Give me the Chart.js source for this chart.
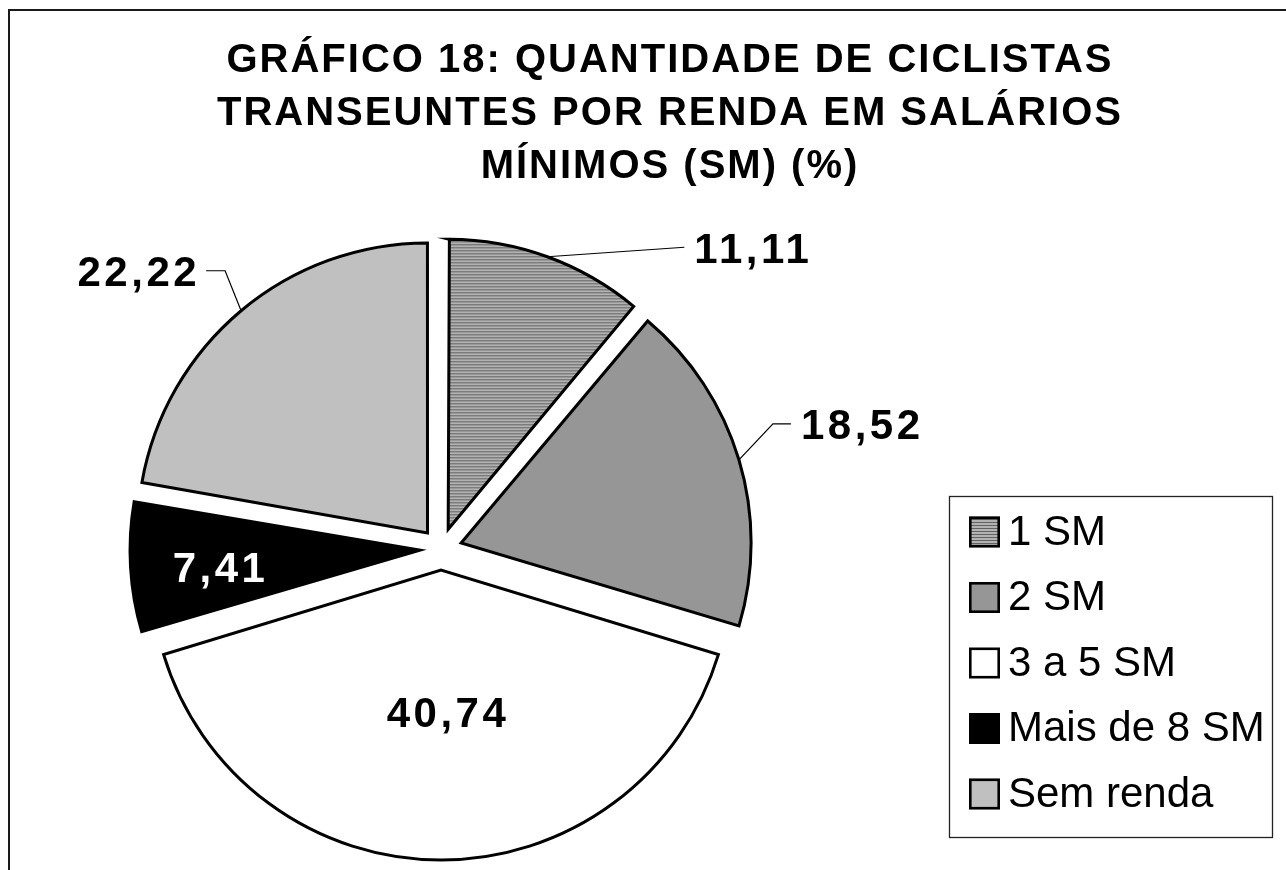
<!DOCTYPE html>
<html><head><meta charset="utf-8">
<script src="https://cdn.jsdelivr.net/npm/chart.js@4/dist/chart.umd.min.js"></script>
<style>html,body{margin:0;padding:0;background:#fff;overflow:hidden}canvas{display:block}</style>
</head><body>
<canvas id="c" width="1286" height="870"></canvas>
<script>
// ---- data ----
const titleLines = ['GRÁFICO 18: QUANTIDADE DE CICLISTAS', 'TRANSEUNTES POR RENDA EM SALÁRIOS', 'MÍNIMOS (SM) (%)'];
const categories = ['1 SM', '2 SM', '3 a 5 SM', 'Mais de 8 SM', 'Sem renda'];
const percentages = [11.11, 18.52, 40.74, 7.41, 22.22];

// ---- styling helpers ----
const PIE_RADIUS = 290;
function stripePattern() {
  const c = document.createElement('canvas');
  c.width = 4; c.height = 3;
  const x = c.getContext('2d');
  x.fillStyle = '#b2b2b2'; x.fillRect(0, 0, 4, 3);
  x.fillStyle = '#626262'; x.fillRect(0, 0, 4, 1);
  return x.createPattern(c, 'repeat');
}
const sliceColors = [stripePattern(), '#969696', '#ffffff', '#000000', '#c0c0c0'];
const fmt = v => v.toFixed(2).replace('.', ',');

const framePlugin = {
  id: 'frame',
  beforeDraw(chart) {
    const ctx = chart.ctx;
    ctx.save();
    ctx.strokeStyle = '#1a1a1a'; ctx.lineWidth = 2;
    ctx.strokeRect(9, 10, 1400, 1000);
    ctx.restore();
    ctx.letterSpacing = '2px';
  },
  beforeDatasetsDraw(chart) { chart.ctx.letterSpacing = '0px'; },
  afterLayout(chart) {
    if (chart.titleBlock) { chart.titleBlock.left = 54; chart.titleBlock.right = 1286; }
  },
  // keep every exploded slice at the same radius (Chart.js inflates narrow exploded slices)
  afterDatasetsUpdate(chart) {
    chart.getDatasetMeta(0).data.forEach(arc => {
      const off = (arc.options.offset || 0) / 4;
      const fix = 1 - Math.sin(Math.min(Math.PI, arc.circumference));
      arc.outerRadius = PIE_RADIUS - off * fix;
    });
  }
};

const labelPlugin = {
  id: 'sliceLabels',
  afterDatasetsDraw(chart, args, opts) {
    const ctx = chart.ctx;
    const meta = chart.getDatasetMeta(0);
    ctx.save();
    ctx.font = 'bold 42px "Liberation Sans", Arial, sans-serif';
    ctx.letterSpacing = '3.5px';
    ctx.textBaseline = 'middle';
    meta.data.forEach((arc, i) => {
      const p = arc.getProps(['x', 'y', 'startAngle', 'endAngle', 'outerRadius', 'circumference']);
      const mid = (p.startAngle + p.endAngle) / 2;
      const off = (arc.options.offset || 0) / 4;
      const fix = 1 - Math.sin(Math.min(Math.PI, p.circumference));
      const R = p.outerRadius + off * fix;
      const cx = p.x + Math.cos(mid) * off, cy = p.y + Math.sin(mid) * off;
      const pl = opts.placements[i];
      const txt = fmt(chart.data.datasets[0].data[i]);
      if (pl.type === 'in') {
        const tx = cx + Math.cos(mid) * R * pl.r + pl.dx;
        const ty = cy + Math.sin(mid) * R * pl.r + pl.dy;
        ctx.fillStyle = pl.color; ctx.textAlign = 'center';
        ctx.fillText(txt, tx, ty);
      } else {
        const ex = cx + Math.cos(mid) * R, ey = cy + Math.sin(mid) * R;
        ctx.strokeStyle = '#000'; ctx.lineWidth = 1.2;
        ctx.beginPath(); ctx.moveTo(ex, ey);
        if (pl.elbow) ctx.lineTo(ex + pl.elbow[0], ey + pl.elbow[1]);
        ctx.lineTo(ex + pl.end[0], ey + pl.end[1]);
        ctx.stroke();
        ctx.fillStyle = '#000'; ctx.textAlign = pl.align;
        ctx.fillText(txt, ex + pl.text[0] + (pl.align === 'right' ? 3 : 0), ey + pl.text[1]);
      }
    });
    ctx.restore();
  }
};

const legendPlugin = {
  id: 'boxLegend',
  afterDraw(chart, args, o) {
    const ctx = chart.ctx;
    const ds = chart.data.datasets[0];
    ctx.save();
    ctx.letterSpacing = '0px';
    ctx.fillStyle = '#fff';
    ctx.fillRect(o.x, o.y, o.w, o.h);
    ctx.strokeStyle = '#222'; ctx.lineWidth = 1.3;
    ctx.strokeRect(o.x + 0.5, o.y + 0.5, o.w, o.h);
    ctx.font = '42px "Liberation Sans", Arial, sans-serif';
    ctx.textBaseline = 'middle'; ctx.textAlign = 'left';
    chart.data.labels.forEach((lab, i) => {
      const cy = o.firstY + i * o.step;
      const s = o.box;
      ctx.fillStyle = ds.backgroundColor[i];
      ctx.fillRect(o.symX, cy - s / 2, s, s);
      ctx.strokeStyle = '#000'; ctx.lineWidth = 2.6;
      ctx.strokeRect(o.symX + 1.3, cy - s / 2 + 1.3, s - 2.6, s - 2.6);
      ctx.fillStyle = '#000';
      ctx.fillText(lab, o.textX, cy + 1);
    });
    ctx.restore();
  }
};

new Chart(document.getElementById('c'), {
  type: 'pie',
  data: {
    labels: categories,
    datasets: [{
      data: percentages,
      backgroundColor: sliceColors,
      borderColor: '#000',
      borderWidth: 3,
      borderJoinStyle: 'miter',
      offset: 84,
      hoverOffset: 0,
      radius: PIE_RADIUS
    }]
  },
  options: {
    responsive: false,
    animation: false,
    devicePixelRatio: 1,
    events: [],
    layout: { padding: { left: 0, right: 404, top: 0, bottom: 2 } },
    plugins: {
      legend: { display: false },
      tooltip: { enabled: false },
      title: {
        display: true,
        text: titleLines,
        color: '#000',
        font: { family: '"Liberation Sans", Arial, sans-serif', size: 40, weight: 'bold', lineHeight: '53px' },
        padding: { top: 34, bottom: 37 }
      },
      sliceLabels: {
        placements: [
          { type: 'out', end: [137, -9.5], text: [147, -5], align: 'left' },
          { type: 'out', elbow: [34, -36], end: [52, -36], text: [62, -32], align: 'left' },
          { type: 'in', r: 0.5, dx: 7, dy: 0, color: '#000' },
          { type: 'in', r: 0.72, dx: 9, dy: 8, color: '#fff' },
          { type: 'out', elbow: [-16, -40], end: [-35, -40], text: [-44, -36], align: 'right' }
        ]
      },
      boxLegend: { x: 949, y: 496, w: 323, h: 341, firstY: 532, step: 65.5, box: 31, symX: 969, textX: 1008 }
    }
  },
  plugins: [framePlugin, labelPlugin, legendPlugin]
});
</script>
</body></html>
